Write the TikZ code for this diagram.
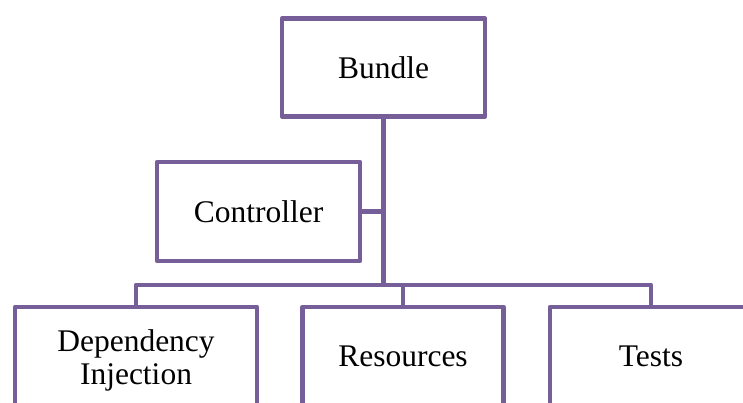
\documentclass[tikz,border=0pt]{standalone}
\usepackage{fontspec}
\setmainfont{Liberation Serif}
\newfontfamily\boxfont{Liberation Serif}
\usetikzlibrary{positioning}

\definecolor{boxpurple}{RGB}{118,94,152}

\begin{document}
\begin{tikzpicture}[
      x=1pt, y=1pt,
      box/.style={draw=boxpurple, line width=4.5pt, line join=round,
                  rectangle, minimum width=203pt, minimum height=98pt,
                  align=center, fill=white,
                  font=\boxfont\fontsize{31.5}{33}\selectfont},
      link/.style={draw=boxpurple, line width=4.5pt, line join=round}
    ]
    \useasboundingbox (0,0) rectangle (743,-403);
    \clip (0,0) rectangle (743,-403);

    % Top of the tree
    \node[box] (bundle) at (383.5,-67.5) {Bundle};
    \node[box, minimum height=99pt] (controller) at (258.5,-211.5) {Controller};

    % Bottom row
    \node[box, minimum width=242pt, minimum height=99pt] (di) at (136,-356.5) {\rule{0pt}{30pt}Dependency\\Injection};
    \node[box, minimum width=201pt, minimum height=99pt, right=41pt of di] (resources) {Resources};
    \node[box, minimum width=202pt, minimum height=99pt, right=42pt of resources] (tests) {Tests};

    % Bus between the rows
    \coordinate (bus) at ([yshift=20pt]resources.north -| bundle.south);

    % Draw connections
    \draw[link] (bundle.south) -- (bus);
    \draw[link] (controller.east) -- (controller.east -| bundle.south);
    \draw[link] (di.north) |- (tests.north |- bus) -- (tests.north);
    \draw[link] (resources.north) -- (resources.north |- bus);

  \end{tikzpicture}
\end{document}
